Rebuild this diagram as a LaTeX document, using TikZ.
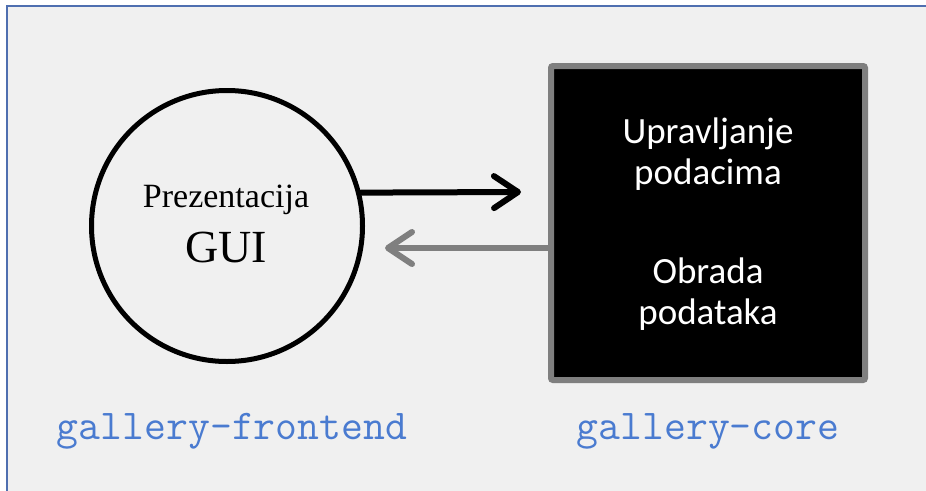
\documentclass[tikz,border=0pt]{standalone}
\usepackage{fontspec}
\setmainfont{Liberation Serif}
\newfontfamily\boxfont{Carlito}
\usetikzlibrary{arrows.meta}
\definecolor{frameblue}{HTML}{4F6FB0}
\definecolor{labblue}{HTML}{4A7BD0}
\definecolor{bggray}{HTML}{F0F0F0}
\definecolor{midgray}{HTML}{7F7F7F}
\tikzset{
  arr/.style={line width=6pt, line cap=round, -{Straight Barb[length=24pt 0,width=32pt 0,round]}},
  boxtext/.style={text=white, anchor=base, font=\boxfont\fontsize{37}{40}\selectfont, inner sep=0pt},
  circtext/.style={text=black, anchor=base, inner sep=0pt},
  modlabel/.style={text=labblue, anchor=base, font=\ttfamily\fontsize{42.5}{46}\selectfont, inner sep=0pt}
}
\begin{document}
\begin{tikzpicture}[x=1pt,y=-1pt]
\useasboundingbox (0,0) rectangle (926,490);
\fill[white] (0,0) rectangle (926,490);
\draw[frameblue, line width=2pt, fill=bggray] (7,6) rectangle (940,500);
% circle
\node[draw=black, line width=5pt, circle, minimum size=271pt, inner sep=0pt] (circ) at (227,226) {};
\node[circtext, font=\fontsize{34}{40}\selectfont] (pres) at (226,207) {Prezentacija};
\node[circtext, font=\fontsize{46}{50}\selectfont] (gui) at (226,262) {GUI};
% box
\node[draw=midgray, fill=black, line width=6pt, rounded corners=2pt, minimum width=314pt, minimum height=314pt, inner sep=0pt] (box) at (708,223) {};
\node[boxtext] (u1) at (708,143) {Upravljanje};
\node[boxtext] (u2) at (708,184) {podacima};
\node[boxtext] (o1) at (708,283) {Obrada};
\node[boxtext] (o2) at (708,324) {podataka};
% arrows
\coordinate (a1) at (521,192);
\coordinate (a2) at (385,248);
\draw[arr, black] (circ.14) -- (a1);
\draw[arr, midgray] (box.west |- a2) -- (a2);
% labels
\node[modlabel] (lf) at (232,439) {gallery-frontend};
\node[modlabel] (lc) at (708,439) {gallery-core};
\end{tikzpicture}
\end{document}
